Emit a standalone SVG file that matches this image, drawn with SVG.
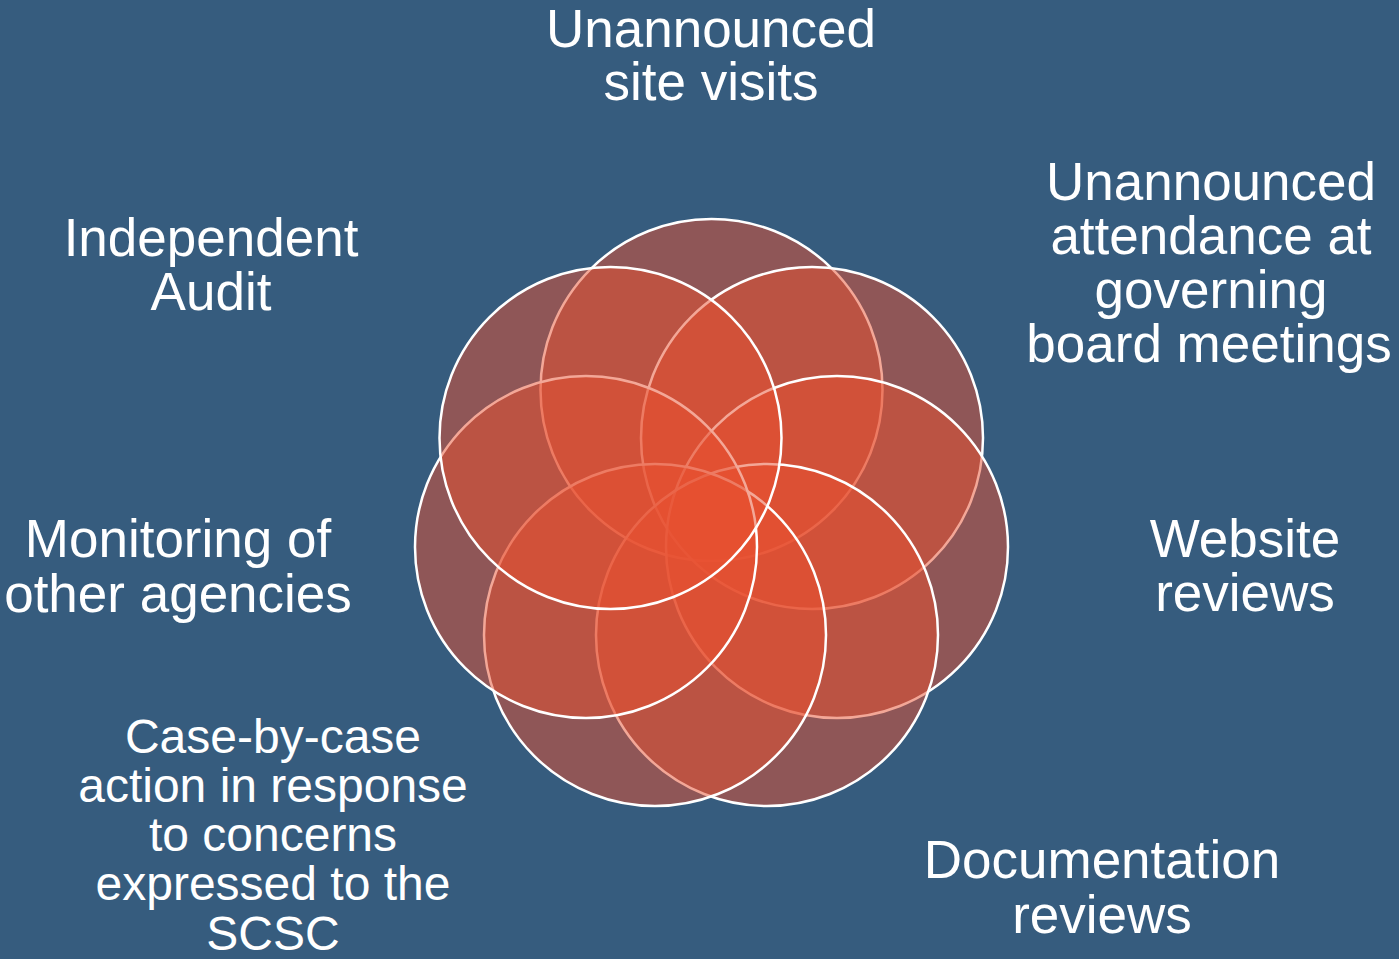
<svg xmlns="http://www.w3.org/2000/svg" width="1399" height="959" viewBox="0 0 1399 959">
<style>
.c{fill:#E8502F;fill-opacity:0.5;stroke:#FFFFFF;stroke-width:2.5}
.t{font-family:"Liberation Sans",Arial,sans-serif;font-size:53px;fill:#FFFFFF;text-anchor:middle}
.s{font-size:48px}
</style>
<rect width="1399" height="959" fill="#365C7E"/>
<g id="circles">
<g id="n1"><circle class="c" cx="711.5" cy="390" r="171"/></g>
<g id="n2"><circle class="c" cx="812" cy="438" r="171"/></g>
<g id="n3"><circle class="c" cx="837" cy="547" r="171"/></g>
<g id="n4"><circle class="c" cx="767" cy="635" r="171"/></g>
<g id="n5"><circle class="c" cx="655" cy="635" r="171"/></g>
<g id="n6"><circle class="c" cx="586" cy="547" r="171"/></g>
<g id="n7"><circle class="c" cx="610.5" cy="438" r="171"/></g>
</g>
<g id="connectors"></g>
<g id="label1"><text class="t" x="711" y="47">Unannounced</text><text class="t" x="711" y="100">site visits</text></g>
<g id="label2"><text class="t" x="1211" y="200">Unannounced</text><text class="t" x="1211" y="254">attendance at</text><text class="t" x="1211" y="308">governing</text><text class="t" x="1209" y="362">board meetings</text></g>
<g id="label3"><text class="t" x="1245" y="557">Website</text><text class="t" x="1245" y="611">reviews</text></g>
<g id="label4"><text class="t" x="1102" y="878">Documentation</text><text class="t" x="1102" y="933">reviews</text></g>
<g id="label5"><text class="t s" x="273" y="753">Case-by-case</text><text class="t s" x="273" y="802">action in response</text><text class="t s" x="273" y="851">to concerns</text><text class="t s" x="273" y="900">expressed to the</text><text class="t s" x="273" y="950">SCSC</text></g>
<g id="label6"><text class="t" x="178" y="557">Monitoring of</text><text class="t" x="178" y="612">other agencies</text></g>
<g id="label7"><text class="t" x="211" y="256">Independent</text><text class="t" x="211" y="310">Audit</text></g>
</svg>
